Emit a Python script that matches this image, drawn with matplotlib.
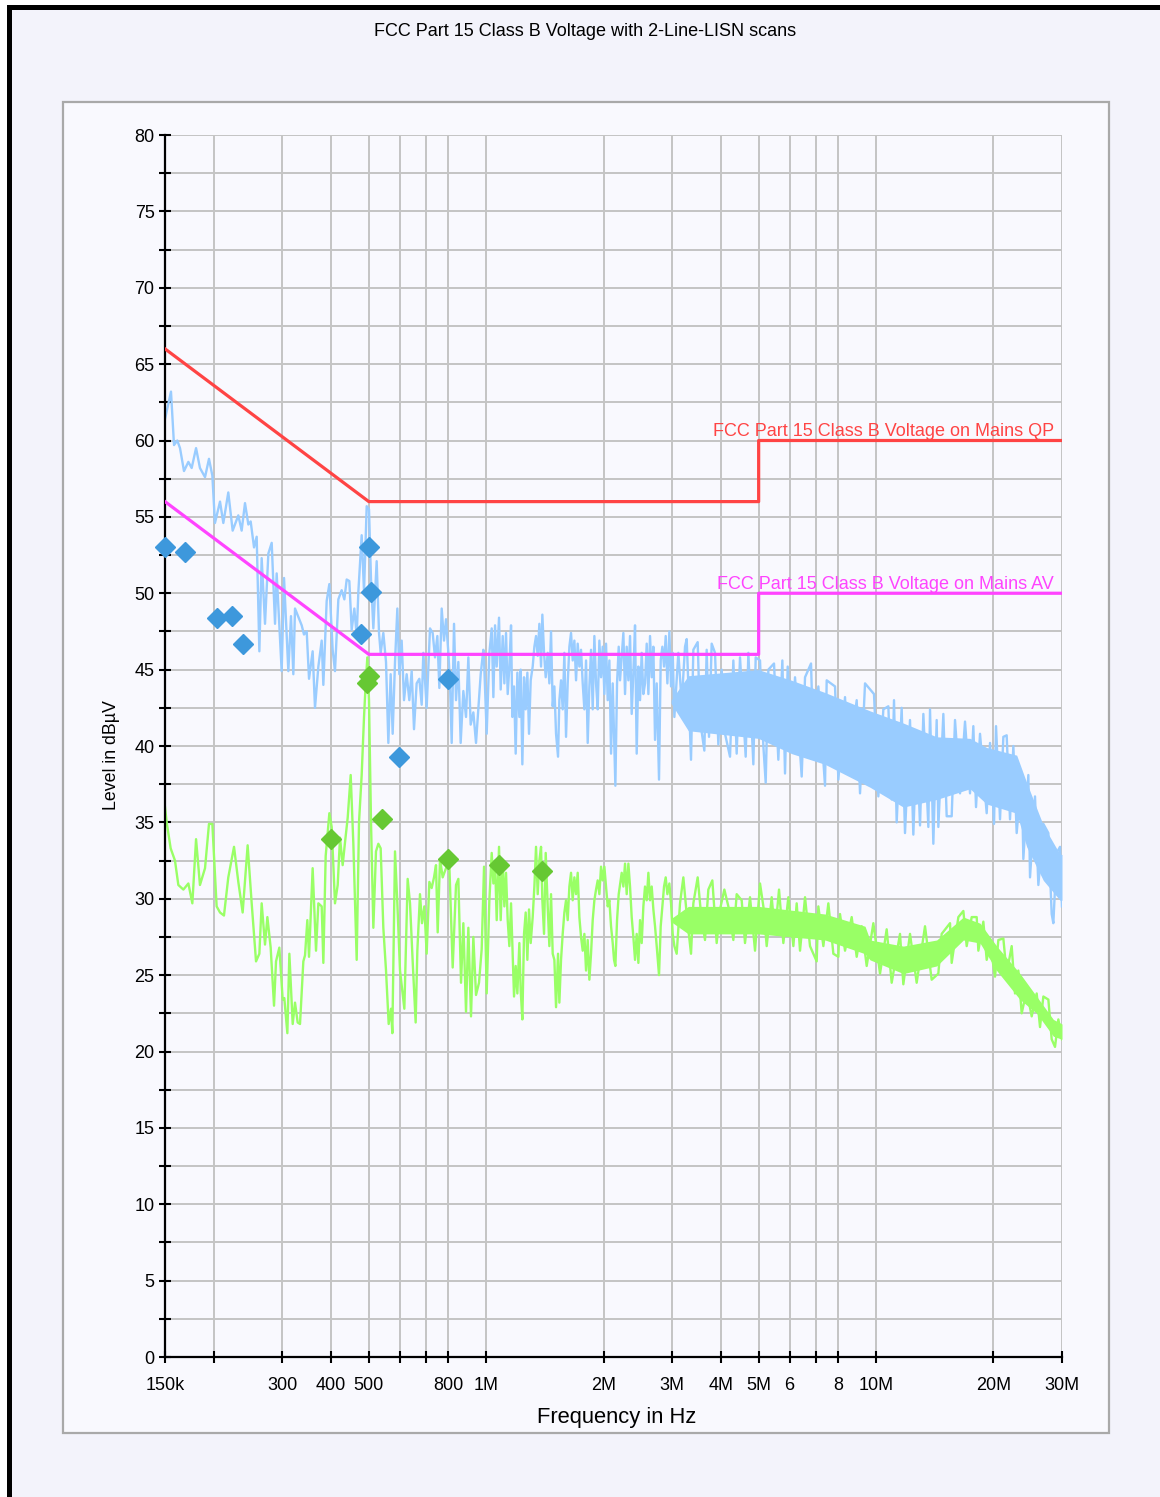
import numpy as np
import matplotlib
matplotlib.use("Agg")
import matplotlib.pyplot as plt
from matplotlib.patches import Rectangle
from matplotlib.ticker import FixedLocator, NullLocator, MultipleLocator

plt.rcParams['font.family'] = ['Liberation Sans', 'DejaVu Sans']

# ---- limit lines (Hz, dBuV) ----
qp_f = [150e3, 500e3, 5e6, 5e6, 30e6]
qp_v = [66, 56, 56, 60, 60]
av_f = [150e3, 500e3, 5e6, 5e6, 30e6]
av_v = [56, 46, 46, 50, 50]

# ---- peak scan (light blue), turning points, kHz / dBuV ----
# 150 kHz .. 1 MHz
pk_f1 = [150.0, 155.4, 158.2, 161.3, 163.9, 167.8, 172.2, 175.6, 180.2, 184.4,
         190.0, 194.5, 198.4, 201.5, 207.6, 211.7, 218.0, 223.7, 231.3, 235.9,
         240.6, 245.4, 248.8, 253.8, 257.8, 261.9, 265.5, 270.8, 276.2, 281.7,
         287.3, 290.1, 298.8, 303.0, 310.8, 315.7, 320.1, 323.3, 336.3, 340.9,
         346.4, 351.2, 358.8, 363.8, 371.1, 378.5, 382.2, 389.8, 396.0, 403.8,
         409.4, 417.6, 425.9, 432.7, 438.7, 445.6, 451.8, 459.0, 465.4, 470.0,
         479.3, 486.0, 493.7, 500.5, 506.5, 513.5, 523.7, 531.0, 536.2, 544.7,
         553.4, 561.1, 568.8, 575.6, 583.6, 591.7, 598.7, 607.0, 615.5, 625.2,
         635.1, 644.0, 652.9, 663.2, 673.8, 683.2, 689.9, 703.6, 717.6, 729.0,
         739.1, 749.4, 758.3, 768.9, 779.5, 788.8, 799.8, 807.6, 815.7, 827.0,
         836.8, 848.4, 860.1, 873.8, 887.7, 900.0, 912.5, 927.0, 941.7, 954.8,
         968.1, 983.4]
pk_v1 = [61.4, 63.2, 59.7, 60.0, 59.5, 58.0, 58.6, 58.2, 59.5, 58.2,
         57.6, 58.8, 57.7, 54.6, 56.0, 54.6, 56.6, 54.1, 55.1, 54.1,
         55.9, 54.5, 54.7, 53.0, 53.7, 46.2, 52.3, 48.0, 52.6, 53.3,
         48.0, 51.3, 44.9, 51.0, 44.9, 48.5, 44.7, 49.0, 47.9, 47.3,
         47.5, 44.4, 46.2, 42.5, 45.2, 46.9, 44.0, 49.5, 50.6, 46.3,
         44.9, 49.6, 50.2, 49.6, 50.9, 50.8, 47.6, 49.0, 47.2, 50.1,
         53.8, 50.1, 55.7, 55.5, 50.9, 47.7, 52.1, 47.4, 46.1, 47.4,
         45.5, 40.2, 44.7, 40.8, 45.5, 49.0, 44.7, 46.9, 43.0, 44.7,
         43.0, 44.9, 41.1, 44.1, 44.4, 42.7, 46.1, 42.5, 47.7, 47.4,
         45.8, 47.2, 43.8, 49.0, 46.9, 48.3, 46.1, 44.1, 40.2, 48.0,
         43.0, 45.5, 40.2, 43.6, 41.9, 45.8, 41.4, 42.2, 40.2, 42.5,
         44.7, 46.3]
# 1 MHz .. 3 MHz
pk_f2 = [987.4, 1003.0, 1019.0, 1033.2, 1043.4, 1053.7, 1064.1, 1078.8, 1089.5, 1102.5,
         1113.4, 1124.4, 1135.5, 1146.7, 1158.1, 1167.3, 1178.8, 1190.4, 1202.2, 1216.5,
         1226.1, 1238.2, 1250.5, 1262.9, 1275.4, 1287.9, 1300.8, 1316.2, 1329.3, 1342.4,
         1355.7, 1369.1, 1382.7, 1393.5, 1407.4, 1421.3, 1438.2, 1452.4, 1466.8, 1481.3,
         1496.0, 1510.8, 1528.7, 1540.8, 1556.0, 1571.4, 1587.0, 1602.7, 1618.5, 1634.6,
         1650.7, 1667.1, 1683.6, 1700.3, 1717.0, 1734.0, 1751.2, 1768.5, 1786.0, 1803.7,
         1821.5, 1839.5, 1857.7, 1876.1, 1894.7, 1913.4, 1932.4, 1951.5, 1970.8, 1990.2,
         2009.9, 2029.9, 2049.9, 2070.3, 2090.7, 2111.4, 2128.1, 2144.9, 2166.2, 2187.6,
         2204.8, 2226.6, 2248.6, 2270.8, 2293.4, 2316.1, 2339.0, 2362.0, 2385.4, 2409.0,
         2432.9, 2457.0, 2481.3, 2505.8, 2530.6, 2555.5, 2581.0, 2606.6, 2632.3, 2658.3,
         2684.6, 2711.0, 2738.0, 2775.7, 2803.5, 2831.2, 2859.2, 2887.5, 2916.1, 2950.8,
         2979.9, 3009.4, 3039.1]
pk_v2 = [45.6, 40.8, 46.1, 47.7, 43.2, 47.9, 45.2, 48.4, 43.7, 47.2,
         44.1, 47.4, 43.4, 45.2, 47.9, 41.9, 43.9, 39.5, 44.8, 41.9,
         45.0, 38.8, 44.5, 42.4, 44.8, 40.8, 44.3, 45.2, 46.5, 47.2,
         45.9, 48.0, 45.2, 48.6, 46.1, 44.5, 46.1, 44.1, 47.5, 42.6,
         43.9, 40.8, 39.3, 43.0, 44.3, 42.4, 46.1, 40.6, 44.1, 46.5,
         47.4, 45.6, 46.9, 44.3, 46.7, 45.2, 46.3, 44.1, 42.4, 45.6,
         40.2, 43.9, 46.3, 42.4, 47.2, 44.1, 42.4, 46.9, 44.5, 46.5,
         43.4, 46.7, 43.0, 45.6, 39.5, 44.1, 40.8, 37.4, 44.1, 46.5,
         44.3, 45.9, 47.4, 43.4, 46.5, 44.3, 47.2, 42.1, 44.8, 47.9,
         39.5, 45.2, 43.0, 46.1, 43.4, 44.1, 46.7, 43.4, 47.2, 44.5,
         46.5, 40.4, 44.1, 37.8, 45.6, 46.5, 45.2, 47.2, 44.1, 47.5,
         43.9, 46.1, 41.9]
# 3 MHz .. 30 MHz
pk_f3 = [3111.4, 3173.3, 3236.5, 3268.5, 3353.1, 3399.7, 3487.8, 3536.1, 3627.9, 3678.2,
         3729.3, 3788.5, 3863.7, 3940.6, 4019.0, 4099.2, 4221.9, 4305.8, 4391.2, 4478.4,
         4631.3, 4704.8, 4845.8, 4913.1, 5040.3, 5140.7, 5212.1, 5295.1, 5474.9, 5616.3,
         5751.2, 5842.4, 5935.4, 6077.3, 6198.1, 6447.0, 6575.3, 6812.5, 6907.1, 7113.9,
         7399.6, 7472.7, 7849.9, 8005.9, 8327.6, 8493.1, 8921.7, 9099.3, 9372.0,
         9882.8, 10139, 10443, 10756, 10970, 11122, 11299, 11637, 11868, 12224,
         12467, 12715, 12969, 13227, 13623, 13758, 14031, 14310, 14451, 14885,
         15181, 15636, 15947, 16427, 16917, 17425, 17769, 18054, 18484, 19228,
         19610, 20079, 20318, 20803, 21216, 21637, 22068, 22508, 22955, 23643,
         23876, 24593, 24836, 25579, 26090, 26871, 27677, 28227, 28506, 29073,
         29652, 29990]
pk_v3 = [46.1, 42.8, 46.5, 47.0, 39.1, 46.3, 46.8, 41.7, 39.7, 46.3,
         40.6, 46.7, 46.1, 40.1, 45.0, 40.8, 39.3, 45.6, 39.5, 45.8,
         39.3, 46.1, 38.8, 45.8, 45.6, 40.0, 37.6, 45.0, 45.4, 39.1,
         45.6, 38.2, 45.2, 40.4, 44.5, 38.0, 44.5, 45.4, 40.0, 43.9,
         37.4, 44.3, 43.9, 37.8, 43.2, 38.6, 43.0, 36.9, 44.1,
         43.4, 36.7, 42.4, 42.6, 36.5, 43.0, 35.0, 42.5, 34.3, 41.7,
         34.2, 40.6, 34.8, 42.1, 34.7, 42.4, 33.6, 41.7, 34.7, 42.1,
         35.4, 35.4, 41.7, 36.9, 41.6, 36.9, 41.3, 36.0, 40.8, 35.6,
         40.2, 34.9, 41.3, 35.2, 40.6, 40.7, 35.2, 40.0, 34.3, 38.2,
         32.6, 38.1, 31.4, 36.7, 30.9, 34.9, 34.3, 29.0, 28.4, 33.0,
         33.4, 29.5]
# dense core of the peak scan above 3 MHz
pk_core_f = [2980, 3300, 4990, 6077, 7400, 9652, 11752, 14310, 17425, 19228,
             22955, 24352, 26871, 29652, 30000]
pk_core_hi = [43.0, 44.6, 45.0, 44.3, 43.5, 42.3, 41.5, 40.6, 40.5, 39.9,
              39.4, 37.6, 34.8, 32.9, 32.9]
pk_core_lo = [42.8, 41.0, 40.5, 39.5, 38.8, 37.3, 36.0, 36.5, 37.2, 36.2,
              35.6, 33.4, 31.2, 29.9, 29.9]

# ---- average scan (light green) ----
av_f1 = [150.0, 151.5, 155.1, 157.6, 159.1, 162.3, 167.2, 172.2, 176.3, 180.2,
         184.4, 190.0, 194.5, 198.4, 203.5, 207.6, 212.5, 218.0, 225.5, 231.3,
         237.3, 244.4, 250.3, 256.8, 261.9, 265.5, 270.8, 274.6, 280.0, 285.6,
         289.0, 294.7, 300.6, 303.5, 309.0, 312.7, 318.9, 323.3, 328.4, 333.0,
         339.6, 343.0, 347.7, 351.2, 358.8, 366.0, 371.1, 378.5, 382.2, 387.5,
         396.0, 401.5, 409.4, 416.0, 421.7, 428.4, 434.4, 441.3, 449.2, 456.3,
         465.4, 471.8, 479.3, 486.0, 490.8, 495.6, 500.5, 506.5, 513.5, 521.6,
         528.9, 536.2, 544.7, 553.4, 562.2, 570.0, 574.5, 583.6, 591.7, 601.1,
         616.7, 628.9, 637.7, 647.8, 659.3, 665.9, 676.4, 684.5, 694.0, 703.6,
         714.8, 724.7, 734.8, 743.5, 750.9, 761.4, 773.4, 788.8, 804.5, 820.5,
         836.8, 848.4, 861.9, 873.8, 887.7, 900.0, 914.3, 927.0, 941.7, 958.5,
         973.8]
av_v1 = [36.0, 35.0, 33.3, 32.8, 32.5, 30.9, 30.6, 31.0, 29.7, 33.9,
         30.9, 32.0, 34.9, 34.9, 29.5, 29.1, 28.9, 31.4, 33.4, 31.1,
         29.1, 33.5, 29.7, 25.9, 26.4, 29.7, 27.0, 28.8, 26.8, 23.0,
         25.9, 26.8, 23.4, 23.5, 21.2, 26.4, 21.8, 23.2, 21.9, 21.8,
         25.9, 26.3, 28.6, 26.2, 32.0, 26.6, 29.7, 29.5, 25.8, 32.8,
         35.6, 34.7, 29.7, 30.9, 34.0, 32.2, 33.7, 35.3, 38.1, 33.6,
         26.0, 35.0, 38.1, 41.9, 44.1, 45.8, 43.0, 35.0, 28.1, 33.1,
         33.6, 33.3, 28.1, 25.3, 21.8, 22.8, 21.2, 33.1, 29.7, 25.3,
         22.8, 31.3, 29.7, 25.9, 21.9, 26.6, 30.3, 28.4, 29.5, 26.4,
         31.1, 30.7, 31.4, 32.2, 27.8, 32.6, 31.4, 32.0, 32.2, 25.5,
         30.9, 31.3, 24.5, 28.4, 22.6, 28.1, 22.3, 27.5, 23.7, 24.5,
         26.7]
av_f2 = [987.4, 1003.0, 1019.0, 1033.2, 1043.4, 1053.7, 1064.1, 1078.8, 1089.5, 1102.5,
         1113.4, 1124.4, 1135.5, 1146.7, 1158.1, 1167.3, 1178.8, 1190.4, 1202.2, 1216.5,
         1226.1, 1238.2, 1250.5, 1262.9, 1275.4, 1287.9, 1300.8, 1316.2, 1329.3, 1342.4,
         1355.7, 1369.1, 1382.7, 1393.5, 1407.4, 1421.3, 1438.2, 1452.4, 1466.8, 1481.3,
         1496.0, 1510.8, 1528.7, 1540.8, 1556.0, 1571.4, 1587.0, 1602.7, 1618.5, 1634.6,
         1650.7, 1667.1, 1683.6, 1700.3, 1717.0, 1734.0, 1751.2, 1768.5, 1786.0, 1803.7,
         1821.5, 1839.5, 1857.7, 1876.1, 1894.7, 1913.4, 1932.4, 1951.5, 1970.8, 1990.2,
         2009.9, 2029.9, 2049.9, 2070.3, 2090.7, 2111.4, 2128.1, 2144.9, 2166.2, 2187.6,
         2226.6, 2248.6, 2270.8, 2293.4, 2316.1, 2339.0, 2362.0, 2385.4, 2409.0, 2432.9,
         2457.0, 2481.3, 2505.8, 2530.6, 2555.5, 2581.0, 2606.6, 2632.3, 2658.3, 2684.6,
         2711.0, 2738.0, 2775.7, 2803.5, 2831.2, 2859.2, 2887.5, 2916.1, 2950.8, 2979.9,
         3009.4, 3039.1]
av_v2 = [32.1, 23.8, 29.9, 33.0, 31.0, 32.5, 28.6, 33.4, 28.6, 32.5,
         29.5, 31.7, 28.6, 26.9, 29.7, 26.9, 23.6, 25.6, 23.8, 27.1,
         24.0, 22.1, 27.7, 29.1, 26.0, 29.3, 27.1, 28.8, 30.8, 33.4,
         30.3, 32.5, 33.4, 29.9, 27.7, 33.0, 29.5, 26.9, 30.3, 26.4,
         26.0, 22.9, 26.4, 23.2, 26.0, 27.7, 29.1, 29.9, 28.6, 30.8,
         31.7, 29.9, 31.4, 30.3, 31.7, 28.8, 27.5, 26.6, 27.7, 25.3,
         27.3, 24.7, 26.4, 28.6, 29.9, 30.6, 31.2, 30.3, 32.1, 31.2,
         32.1, 30.8, 29.5, 29.9, 28.2, 27.1, 26.0, 25.6, 28.6, 30.3,
         31.7, 30.8, 32.3, 30.3, 32.3, 30.8, 28.8, 27.5, 26.0, 27.7,
         25.8, 28.6, 27.1, 29.5, 30.8, 29.9, 31.7, 29.9, 30.8, 29.3,
         28.2, 26.9, 25.0, 28.2, 29.5, 30.8, 31.4, 30.3, 31.0, 29.7,
         27.7, 26.9]
av_f3 = [3080.9, 3142.1, 3204.6, 3268.5, 3353.1, 3399.7, 3487.8, 3557.1, 3641.9, 3714.5,
         3803.4, 3902.0, 3979.6, 4082.8, 4180.7, 4305.8, 4391.2, 4523.0, 4612.7, 4751.3,
         4893.9, 5040.3, 5140.7, 5243.0, 5400.1, 5507.5, 5639.2, 5785.4, 5958.6, 6137.4,
         6259.4, 6383.9, 6575.3, 6772.0, 7044.1, 7113.9, 7327.2, 7546.5, 7773.2, 8005.9,
         8084.6, 8327.6, 8662.1, 8921.7, 9189.2, 9464.6,
         9844, 10240, 10651, 10970, 11523, 11752, 12224, 12715, 13357, 13893,
         14451, 14738, 15484, 15636, 16265, 16753, 17085, 17597, 18126, 18304,
         18852, 19228, 19610, 20198, 20600, 21216, 21637, 22287, 22730, 23182,
         23643, 24352, 25082, 25834, 26347, 26871, 27677, 28227, 28789, 29361,
         29990]
av_v3 = [26.4, 29.7, 31.4, 29.0, 26.4, 29.7, 31.4, 29.0, 27.3, 30.6,
         31.2, 27.1, 29.3, 30.6, 29.5, 27.3, 30.3, 29.9, 27.1, 30.1,
         26.6, 31.0, 29.5, 26.9, 30.1, 27.7, 30.6, 27.1, 30.1, 26.9,
         29.7, 26.6, 30.1, 26.9, 25.9, 29.5, 26.9, 29.7, 26.4, 26.2,
         29.0, 26.6, 28.8, 26.2, 28.2, 25.6,
         28.4, 25.1, 28.0, 24.5, 27.7, 24.4, 27.7, 24.5, 28.2, 24.7,
         25.1, 27.7, 28.4, 25.8, 28.8, 29.2, 26.9, 28.8, 28.8, 26.6,
         28.5, 26.0, 27.1, 24.9, 27.3, 27.4, 25.1, 26.9, 23.8, 25.3,
         22.5, 24.0, 22.3, 23.8, 21.6, 23.6, 23.4, 20.8, 20.3, 22.1,
         20.8]
av_core_f = [2980, 3300, 4992, 7400, 9372, 9652, 11752, 14310, 16753, 18485,
             20398, 23411, 25834, 28506, 30000]
av_core_hi = [28.7, 29.5, 29.5, 29.0, 28.2, 27.3, 26.9, 27.3, 28.8, 28.4,
              26.9, 25.1, 23.6, 22.1, 21.8]
av_core_lo = [28.5, 27.7, 27.7, 27.3, 26.4, 26.0, 25.1, 25.6, 27.3, 27.1,
              25.3, 23.4, 22.5, 21.0, 20.8]

# ---- final measurement markers ----
qp_mk_f = [150.0, 168.8, 203.6, 222.4, 237.4, 477.4, 501.4, 505.6, 596.5, 799.7]
qp_mk_v = [53.0, 52.7, 48.4, 48.5, 46.7, 47.3, 53.0, 50.1, 39.3, 44.4]
av_mk_f = [400.0, 494.6, 500.0, 540.5, 800.0, 1079, 1391]
av_mk_v = [33.9, 44.1, 44.6, 35.2, 32.6, 32.2, 31.8]

x_ticks = [150e3, 200e3, 300e3, 400e3, 500e3, 600e3, 700e3, 800e3, 1e6,
           2e6, 3e6, 4e6, 5e6, 6e6, 7e6, 8e6, 10e6, 20e6, 30e6]
x_labels = ['150k', '', '300', '400', '500', '', '', '800', '1M',
            '2M', '3M', '4M', '5M', '6', '', '8', '10M', '20M', '30M']

W, H = 1160, 1497
fig = plt.figure(figsize=(W / 100, H / 100), dpi=100, facecolor='white')

# frame: black edge top/left, lavender page, inner panel
fig.patches.append(Rectangle((7 / W, 0), 1, 1 - 5 / H, transform=fig.transFigure,
                             facecolor='black', edgecolor='none', zorder=-3))
fig.patches.append(Rectangle((12 / W, 0), 1, 1 - 10 / H, transform=fig.transFigure,
                             facecolor='#f3f3fb', edgecolor='none', zorder=-2))
fig.patches.append(Rectangle((63 / W, 1 - 1433 / H), (1109 - 63) / W, (1433 - 102) / H,
                             transform=fig.transFigure, facecolor='#f9f9fe',
                             edgecolor='#a9a9a9', lw=1.6, zorder=-1))

ax = fig.add_axes([165 / W, 1 - 1357 / H, (1062 - 165) / W, (1357 - 135) / H])
ax.patch.set_visible(False)
ax.set_xscale('log')
ax.set_xlim(150e3, 30e6)
ax.set_ylim(0, 80)

ax.xaxis.set_major_locator(FixedLocator(x_ticks))
ax.xaxis.set_minor_locator(NullLocator())
ax.set_xticklabels(x_labels)
ax.yaxis.set_major_locator(MultipleLocator(5))
ax.yaxis.set_minor_locator(MultipleLocator(2.5))

ax.grid(True, which='both', color='#c4c4c4', lw=1.4)
ax.set_axisbelow(True)
for s in ['top', 'right']:
    ax.spines[s].set_visible(False)
for s in ['left', 'bottom']:
    ax.spines[s].set_linewidth(1.6)
ax.tick_params(which='both', direction='inout', length=9, width=1.5, labelsize=13)
ax.tick_params(axis='x', pad=10)
ax.tick_params(axis='y', pad=3)

# scans
pk_f = np.concatenate([pk_f1, pk_f2, pk_f3]) * 1e3
pk_v = np.concatenate([pk_v1, pk_v2, pk_v3])
av_sc_f = np.concatenate([av_f1, av_f2, av_f3]) * 1e3
av_sc_v = np.concatenate([av_v1, av_v2, av_v3])

blue, green = '#99ccff', '#99ff66'
ax.fill_between(np.array(pk_core_f) * 1e3, pk_core_lo, pk_core_hi, color=blue, lw=0, zorder=2)
ax.plot(pk_f, pk_v, color=blue, lw=1.7, zorder=2)
ax.fill_between(np.array(av_core_f) * 1e3, av_core_lo, av_core_hi, color=green, lw=0, zorder=2)
ax.plot(av_sc_f, av_sc_v, color=green, lw=1.7, zorder=2)

# limits
ax.plot(qp_f, qp_v, color='#ff4444', lw=2.3, zorder=3)
ax.plot(av_f, av_v, color='#ff44ff', lw=2.3, zorder=3)
ax.annotate('FCC Part 15 Class B Voltage on Mains QP', xy=(30e6, 60), xytext=(-6, 0.5),
            textcoords='offset points', ha='right', va='bottom', color='#ff4444', fontsize=13)
ax.annotate('FCC Part 15 Class B Voltage on Mains AV', xy=(30e6, 50), xytext=(-6, 0.5),
            textcoords='offset points', ha='right', va='bottom', color='#ff44ff', fontsize=13)

# markers
ax.plot(np.array(qp_mk_f) * 1e3, qp_mk_v, 'D', color='#3d98dc', ms=10, ls='none',
        zorder=5, clip_on=False)
ax.plot(np.array(av_mk_f) * 1e3, av_mk_v, 'D', color='#66c833', ms=10, ls='none',
        zorder=5, clip_on=False)

fig.text(585 / W, 1 - 32 / H, 'FCC Part 15 Class B Voltage with 2-Line-LISN scans',
         ha='center', va='center', fontsize=13)
fig.text(617 / W, 1 - 1417 / H, 'Frequency in Hz', ha='center', va='center', fontsize=15.8)
fig.text(112 / W, 1 - 755 / H, 'Level in dB\u00b5V', ha='center', va='center',
         rotation=90, fontsize=12.8)

fig.savefig('out.png', dpi=100, facecolor=fig.get_facecolor())
